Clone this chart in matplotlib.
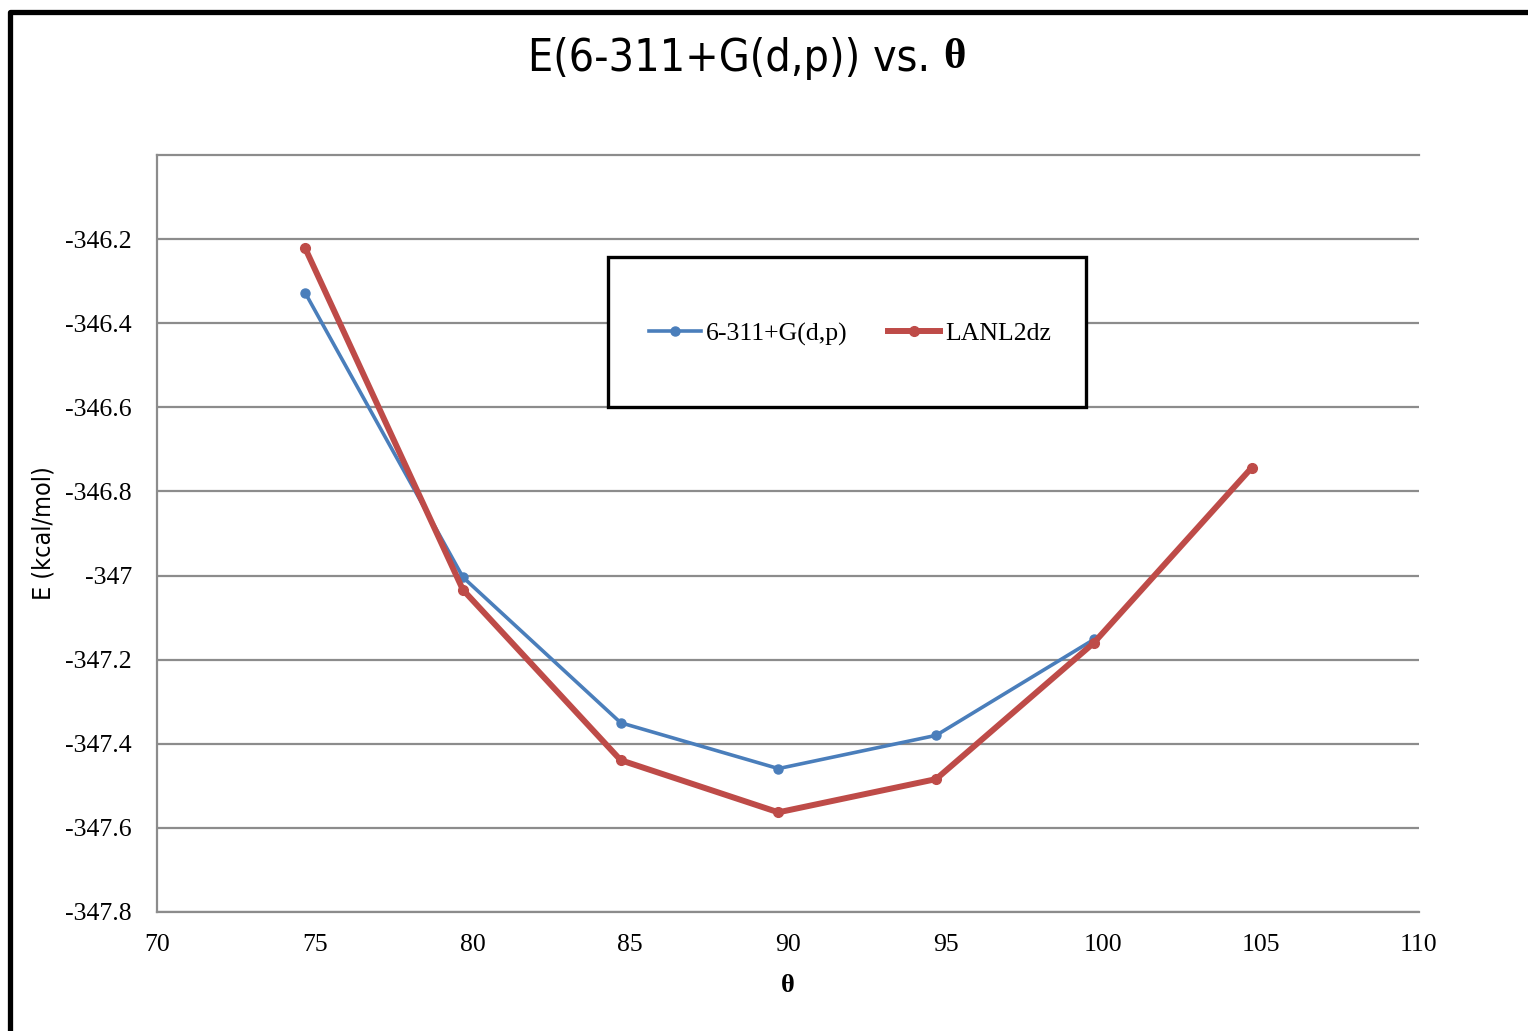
import matplotlib
matplotlib.use("Agg")
import matplotlib.pyplot as plt
from matplotlib.lines import Line2D

# ---- data ----
theta = [74.7, 79.7, 84.7, 89.7, 94.7, 99.7, 104.7]
e_6311 = [-346.328, -347.004, -347.350, -347.459, -347.380, -347.152]
e_lanl = [-346.222, -347.034, -347.439, -347.563, -347.484, -347.160, -346.744]
series_labels = ["6-311+G(d,p)", "LANL2dz"]
xticks = [70, 75, 80, 85, 90, 95, 100, 105, 110]
yticks = [-347.8, -347.6, -347.4, -347.2, -347.0, -346.8, -346.6, -346.4, -346.2]
title_main = "E(6-311+G(d,p)) vs. "
title_sym = "θ"
xlabel = "θ"
ylabel = "E (kcal/mol)"

W, H = 1528, 1031
fig = plt.figure(figsize=(W / 100, H / 100), dpi=100)
ax = fig.add_axes([157 / W, 1 - 912 / H, (1418.7 - 157) / W, (912 - 155) / H])

blue = "#4A7EBB"
red = "#BE4B48"
grid = "#8C8C8C"

ax.plot(theta[:len(e_6311)], e_6311, color=blue, lw=2.6, marker="o", ms=6.5,
        label=series_labels[0], zorder=3)
ax.plot(theta, e_lanl, color=red, lw=4.3, marker="o", ms=7, label=series_labels[1],
        zorder=4)

ax.set_xlim(70, 110)
ax.set_ylim(-347.8, -346.0)
ax.set_xticks(xticks)
ax.set_yticks(yticks)
ax.set_yticklabels([f"{v:g}" for v in yticks])
ax.yaxis.grid(True, color=grid, lw=1.6)
ax.set_axisbelow(True)
for s in ["left", "bottom", "top"]:
    ax.spines[s].set_color(grid)
    ax.spines[s].set_linewidth(1.6)
ax.spines["right"].set_visible(False)

serif = ["Liberation Serif", "DejaVu Serif"]
narrow = ["DejaVu Sans"]
ax.tick_params(axis="both", length=0, labelsize=18.5)
ax.tick_params(axis="y", pad=18)
ax.tick_params(axis="x", pad=16)
for lab in ax.get_xticklabels() + ax.get_yticklabels():
    lab.set_fontfamily(serif)

ax.set_xlabel(xlabel, fontfamily=serif, fontweight="bold", fontsize=19, labelpad=13)
fig.text(43 / W, 1 - 533 / H, ylabel, rotation=90, ha="center", va="center",
         fontfamily=narrow, fontsize=18, fontstretch="condensed")

# title: main part in condensed sans, theta in bold serif
t1 = fig.text(0, 1 - 58 / H, title_main, ha="left", va="center",
              fontfamily=narrow, fontsize=32, fontstretch="condensed")
t2 = fig.text(0, 1 - 58 / H, title_sym, ha="left", va="center",
              fontfamily=serif, fontsize=31, fontweight="bold")
fig.canvas.draw()
r = fig.canvas.get_renderer()
w1 = t1.get_window_extent(r).width
w2 = t2.get_window_extent(r).width
total = w1 + w2
x0 = 747 - total / 2
t1.set_x(x0 / W)
t2.set_x((x0 + w1) / W)

# legend with a manual frame
leg = ax.legend(loc="center", bbox_to_anchor=(850 / W, 1 - 334 / H),
                bbox_transform=fig.transFigure, ncol=2, frameon=False,
                prop={"family": serif, "size": 18.5}, handlelength=2.0,
                handletextpad=0.2, columnspacing=1.6)
rect = plt.Rectangle((608 / W, 1 - 407 / H), (1086 - 608) / W, (407 - 257) / H,
                     transform=fig.transFigure, fill=True, facecolor="white",
                     edgecolor="black", lw=2.4, zorder=5)
fig.add_artist(rect)
leg.set_zorder(6)
fig.add_artist(leg)

# outer frame (partially visible)
fig.add_artist(Line2D([10.2 / W, 10.2 / W, (W + 20) / W],
                      [-0.05, 1 - 11.8 / H, 1 - 11.8 / H],
                      transform=fig.transFigure, color="black", lw=3.8))

fig.savefig("out.png", dpi=100)
